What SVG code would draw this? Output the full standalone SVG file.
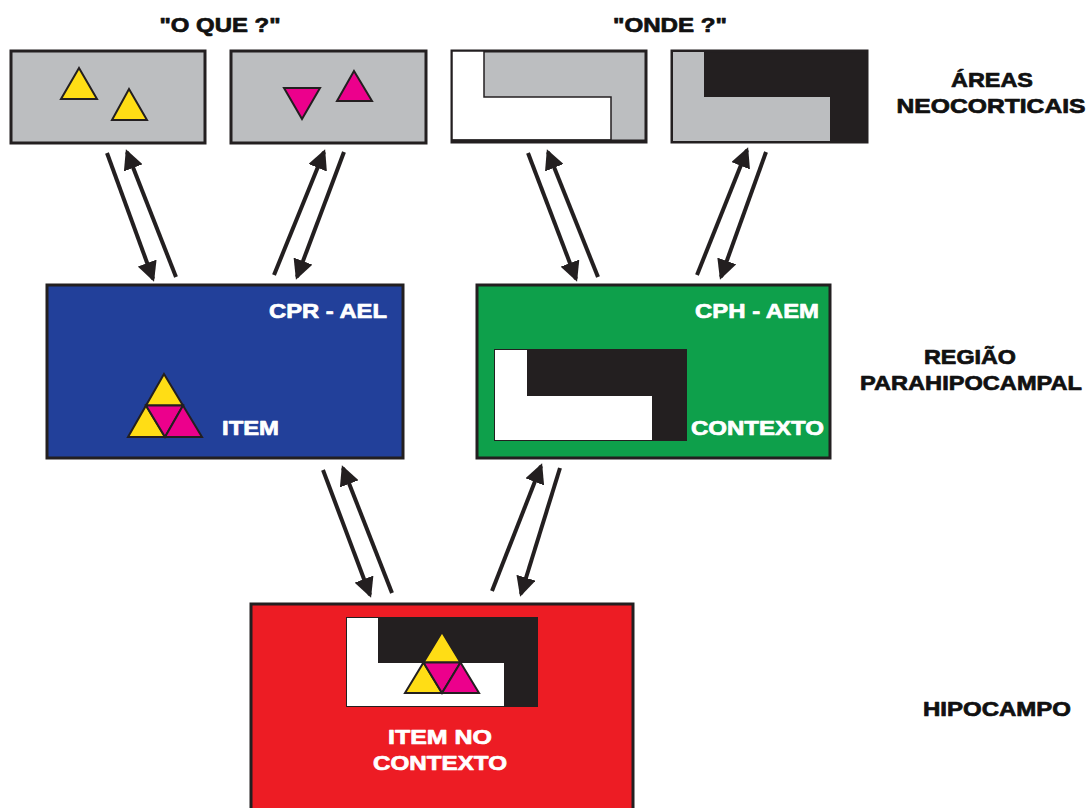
<svg xmlns="http://www.w3.org/2000/svg" width="1089" height="808" viewBox="0 0 1089 808">
  <style>
    .lbl { font-family: "Liberation Sans", Arial, sans-serif; font-weight: bold; font-size: 20px; stroke-width: 0.7; stroke-linejoin: round; }
    .w { fill: #ffffff; stroke: #ffffff; }
    .k { fill: #111111; stroke: #111111; }
    .frame { stroke: #231f20; stroke-width: 3; }
    .gray { fill: #bcbec0; }
    .blk { fill: #231f20; }
    .tri { stroke: #231f20; stroke-width: 2; stroke-linejoin: miter; }
    .yel { fill: #ffdd15; }
    .pnk { fill: #ec008c; }
    .arr { stroke: #231f20; stroke-width: 4; fill: none; marker-end: url(#head); }
  </style>
  <defs>
    <marker id="head" viewBox="0 0 20 20" refX="17" refY="10" markerWidth="20" markerHeight="20" markerUnits="userSpaceOnUse" orient="auto">
      <path d="M0,0 L20,10 L0,20 z" fill="#231f20"/>
    </marker>
  </defs>
  <rect width="1089" height="808" fill="#ffffff"/>

  <!-- headings -->
  <g id="headings">
    <text class="lbl k" x="220" y="32" text-anchor="middle" textLength="121" lengthAdjust="spacingAndGlyphs">"O QUE ?"</text>
    <text class="lbl k" x="670" y="32" text-anchor="middle" textLength="114" lengthAdjust="spacingAndGlyphs">"ONDE ?"</text>
    <text class="lbl k" x="992" y="87" text-anchor="middle" textLength="82" lengthAdjust="spacingAndGlyphs">ÁREAS</text>
    <text class="lbl k" x="991" y="113" text-anchor="middle" textLength="189" lengthAdjust="spacingAndGlyphs">NEOCORTICAIS</text>
    <text class="lbl k" x="970" y="364" text-anchor="middle" textLength="92" lengthAdjust="spacingAndGlyphs">REGIÃO</text>
    <text class="lbl k" x="971" y="390" text-anchor="middle" textLength="222" lengthAdjust="spacingAndGlyphs">PARAHIPOCAMPAL</text>
    <text class="lbl k" x="997" y="716" text-anchor="middle" textLength="148" lengthAdjust="spacingAndGlyphs">HIPOCAMPO</text>
  </g>

  <!-- neocortical "what" area 1 -->
  <g id="what1">
    <rect class="frame gray" x="11" y="51" width="194" height="92"/>
    <polygon class="tri yel" points="79,68 97,99 61,99"/>
    <polygon class="tri yel" points="129,89 147,120 112,120"/>
  </g>

  <!-- neocortical "what" area 2 -->
  <g id="what2">
    <rect class="frame gray" x="231" y="51" width="195" height="92"/>
    <polygon class="tri pnk" points="284,88 320,88 302,119"/>
    <polygon class="tri pnk" points="354,71 372,101 337,101"/>
  </g>

  <!-- neocortical "where" area 1 -->
  <g id="where1">
    <rect class="frame gray" x="452" y="51" width="194" height="91"/>
    <path d="M452,51 H484 V97 H611 V140 H452 Z" fill="#ffffff" stroke="#231f20" stroke-width="1.5"/>
    <line x1="452" y1="141" x2="646" y2="141" stroke="#231f20" stroke-width="3"/>
  </g>

  <!-- neocortical "where" area 2 -->
  <g id="where2">
    <rect class="frame blk" x="672" y="51" width="195" height="91"/>
    <path d="M673,52 H704 V97 H830 V141 H673 Z" class="gray"/>
  </g>

  <!-- perirhinal cortex -->
  <g id="cpr">
    <rect class="frame" fill="#22409a" x="47" y="285" width="356" height="173"/>
    <text class="lbl w" x="269" y="318" textLength="118" lengthAdjust="spacingAndGlyphs">CPR - AEL</text>
    <polygon class="tri yel" points="164,374 183,405.5 146,405.5"/>
    <polygon class="tri yel" points="146,405.5 165,437 128,437"/>
    <polygon class="tri pnk" points="146,405.5 183,405.5 165,437"/>
    <polygon class="tri pnk" points="183,405.5 202,437 165,437"/>
    <text class="lbl w" x="222" y="435" textLength="57" lengthAdjust="spacingAndGlyphs">ITEM</text>
  </g>

  <!-- parahippocampal cortex -->
  <g id="cph">
    <rect class="frame" fill="#0ea04b" x="477" y="285" width="353" height="173"/>
    <text class="lbl w" x="695" y="318" textLength="124" lengthAdjust="spacingAndGlyphs">CPH - AEM</text>
    <rect class="blk" x="494" y="349" width="193" height="92"/>
    <path d="M495,350 H527 V396 H652 V440 H495 Z" fill="#ffffff"/>
    <text class="lbl w" x="691" y="435" textLength="133" lengthAdjust="spacingAndGlyphs">CONTEXTO</text>
  </g>

  <!-- hippocampus -->
  <g id="hipocampo">
    <rect class="frame" fill="#ed1c24" x="251" y="604" width="382" height="220"/>
    <rect class="blk" x="346" y="617" width="192" height="90"/>
    <path d="M347,618 H378 V663 H504 V706 H347 Z" fill="#ffffff"/>
    <polygon class="tri yel" points="442,632 460.5,662.5 423.5,662.5"/>
    <polygon class="tri yel" points="423.5,662.5 442,693 405,693"/>
    <polygon class="tri pnk" points="423.5,662.5 460.5,662.5 442,693"/>
    <polygon class="tri pnk" points="460.5,662.5 479,693 442,693"/>
    <text class="lbl w" x="440" y="744" text-anchor="middle" textLength="104" lengthAdjust="spacingAndGlyphs">ITEM NO</text>
    <text class="lbl w" x="440" y="770" text-anchor="middle" textLength="134" lengthAdjust="spacingAndGlyphs">CONTEXTO</text>
  </g>

  <!-- reciprocal projections -->
  <g id="connectors">
    <line class="arr" x1="107" y1="153" x2="153" y2="279"/>
    <line class="arr" x1="176" y1="277" x2="127" y2="152"/>
    <line class="arr" x1="274" y1="275" x2="324" y2="152"/>
    <line class="arr" x1="344" y1="152" x2="297" y2="277"/>
    <line class="arr" x1="528" y1="153" x2="576" y2="279"/>
    <line class="arr" x1="598" y1="277" x2="548" y2="152"/>
    <line class="arr" x1="697" y1="275" x2="747" y2="150"/>
    <line class="arr" x1="766" y1="152" x2="721" y2="277"/>
    <line class="arr" x1="323" y1="470" x2="370" y2="595"/>
    <line class="arr" x1="392" y1="593" x2="343" y2="468"/>
    <line class="arr" x1="492" y1="591" x2="541" y2="466"/>
    <line class="arr" x1="560" y1="468" x2="521" y2="594"/>
  </g>
</svg>
